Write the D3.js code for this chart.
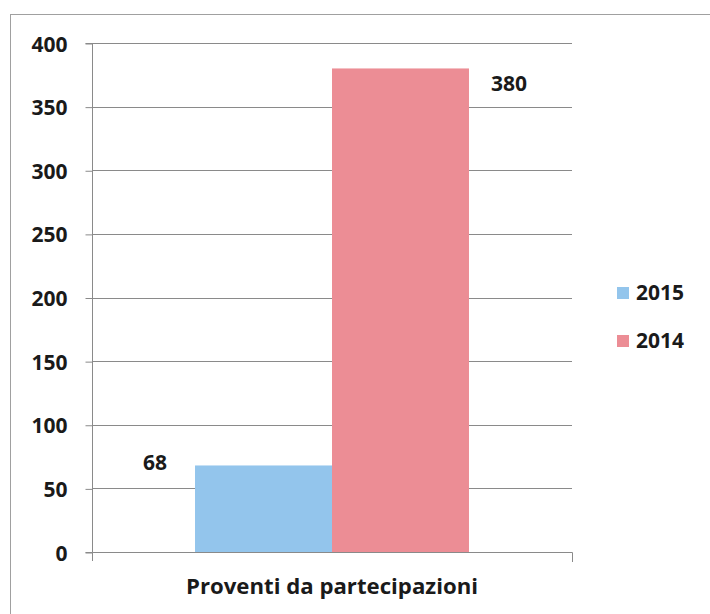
<!DOCTYPE html>
<html>
<head>
<meta charset="utf-8">
<script src="https://cdn.jsdelivr.net/npm/d3@7"></script>
<style>
  html, body { margin: 0; padding: 0; background: #fff; }
  svg { display: block; }
  text { font-family: "Open Sans", "DejaVu Sans", sans-serif; font-weight: bold; fill: #1a1a1a; }
</style>
</head>
<body>
<svg id="chart" width="710" height="614"></svg>
<script>
const categories = ["Proventi da partecipazioni"];
const seriesNames = ["2015", "2014"];
const values2015 = [68];
const values2014 = [380];
const yTicks = [0, 50, 100, 150, 200, 250, 300, 350, 400];
const colors = ["#93c5ec", "#ec8d95"];

(function () {
const svg = d3.select("#chart");
const plotLeft = 92, plotRight = 572, plotTop = 43, plotBottom = 552;

// outer frame
svg.append("rect").attr("x", 10.5).attr("y", 14.5).attr("width", 720).attr("height", 620)
  .attr("fill", "none").attr("stroke", "#a0a0a0").attr("stroke-width", 1);

const y = d3.scaleLinear().domain([0, 400]).range([plotBottom, plotTop]);
const x0 = d3.scaleBand().domain(categories).range([plotLeft, plotRight]).paddingInner(0).paddingOuter(0.376);
const x1 = d3.scaleBand().domain(seriesNames).range([0, x0.bandwidth()]);

// gridlines
svg.append("g").selectAll("line").data(yTicks.filter(d => d > 0)).join("line")
  .attr("x1", plotLeft).attr("x2", plotRight)
  .attr("y1", d => Math.round(y(d)) + 0.5).attr("y2", d => Math.round(y(d)) + 0.5)
  .attr("stroke", "#8a8a8a").attr("stroke-width", 1);

// y axis
const yAxis = d3.axisLeft(y).tickValues(yTicks).tickSize(7).tickPadding(18);
const gy = svg.append("g").attr("transform", `translate(${plotLeft + 0.5},0.5)`).call(yAxis);
gy.select(".domain").attr("stroke", "#8a8a8a").attr("d", `M-7,${plotBottom}H0V${plotTop}H-7`);
gy.selectAll(".tick line").attr("stroke", "#8a8a8a");
gy.selectAll(".tick text").attr("font-size", 21).attr("font-family", "'Open Sans', sans-serif")
  .attr("font-weight", "bold").attr("fill", "#1a1a1a").attr("dy", "0.36em");

// bars
const data = categories.map((c, i) => ({ cat: c, vals: [
  { s: seriesNames[0], v: values2015[i], c: colors[0] },
  { s: seriesNames[1], v: values2014[i], c: colors[1] }
]}));
const g = svg.append("g");
data.forEach(d => {
  g.selectAll(null).data(d.vals).join("rect")
    .attr("x", v => x0(d.cat) + x1(v.s))
    .attr("y", v => y(v.v))
    .attr("width", x1.bandwidth())
    .attr("height", v => y(0) - y(v.v))
    .attr("fill", v => v.c);
});

// x axis
const bx = x0.range();
svg.append("path")
  .attr("d", `M${bx[0] + 0.5},${plotBottom + 9}V${plotBottom + 0.5}H${bx[1] + 0.5}V${plotBottom + 10}`)
  .attr("fill", "none").attr("stroke", "#8a8a8a");

// data labels
data.forEach(d => {
  const b0 = d.vals[0], b1 = d.vals[1];
  svg.append("text").attr("x", x0(d.cat) + x1(b0.s) - 40).attr("y", y(b0.v) + 5)
    .attr("text-anchor", "middle").attr("font-size", 21).text(b0.v);
  svg.append("text").attr("x", x0(d.cat) + x1(b1.s) + x1.bandwidth() + 40).attr("y", y(b1.v) + 23)
    .attr("text-anchor", "middle").attr("font-size", 21).text(b1.v);
});

// category label
svg.append("text").attr("x", x0(categories[0]) + x0.bandwidth() / 2).attr("y", 594)
  .attr("text-anchor", "middle").attr("font-size", 21)
  .attr("textLength", 292).attr("lengthAdjust", "spacingAndGlyphs")
  .text(categories[0]);

// legend
const lg = svg.append("g");
seriesNames.forEach((s, i) => {
  lg.append("rect").attr("x", 617).attr("y", 287 + i * 48).attr("width", 12).attr("height", 12).attr("fill", colors[i]);
  lg.append("text").attr("x", 636).attr("y", 300 + i * 48).attr("font-size", 21).text(s);
});
})();
</script>
</body>
</html>
